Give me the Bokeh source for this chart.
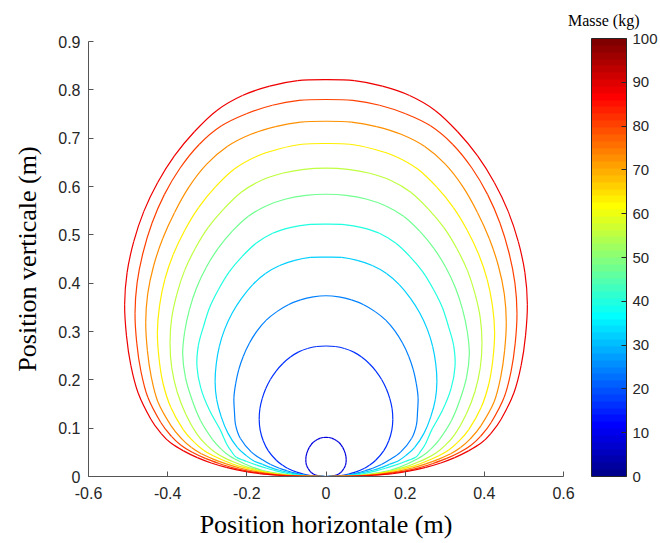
import math
from bokeh.plotting import figure
from bokeh.models import Range1d, ColorBar, LinearColorMapper, FixedTicker, ColumnDataSource, PrintfTickFormatter
from bokeh.embed import file_html
from bokeh.resources import INLINE

# ---- data ----
masses = [8, 16, 24, 32, 40, 48, 56, 64, 72, 80, 88]   # contour levels (kg)

# polar radius (m) of each contour, seen from the origin, at these angles (deg)
angles = [90, 85, 80, 75, 70, 65, 60, 55, 50, 45, 40, 35, 30, 25, 20, 15, 12, 10]
r08 = [.081, .081, .0805, .0797, .0788, .0775, .0757, .0735, .0710, .0685, .0655, .0622, .0585, .0540, .0480, .0415, .0370, .0335]
r16 = [.270, .270, .269, .267, .263, .258, .252, .245, .237, .228, .218, .206, .192, .175, .155, .130, .112, .099]
r24 = [.374, .373, .371, .368, .363, .357, .348, .337, .325, .312, .298, .284, .267, .252, .230, .195, .163, .142]
r32 = [.454, .455, .454, .452, .447, .438, .426, .413, .398, .381, .362, .342, .319, .292, .264, .232, .205, .185]
r40 = [.522, .523, .523, .521, .514, .502, .489, .473, .457, .438, .421, .398, .365, .325, .285, .260, .243, .230]
r48 = [.584, .584, .583, .580, .573, .560, .545, .528, .509, .488, .466, .442, .410, .373, .337, .297, .270, .249]
r56 = [.638, .638, .637, .634, .626, .611, .595, .576, .556, .533, .509, .481, .450, .415, .377, .337, .307, .283]
r64 = [.689, .690, .688, .685, .677, .661, .643, .622, .600, .576, .549, .520, .487, .454, .417, .373, .340, .314]
r72 = [.735, .736, .735, .733, .727, .713, .692, .667, .642, .616, .588, .556, .521, .487, .452, .405, .372, .345]
r80 = [.780, .781, .780, .777, .772, .758, .737, .712, .684, .654, .623, .589, .552, .516, .479, .432, .399, .372]
r88 = [.821, .822, .820, .816, .806, .787, .766, .742, .716, .687, .656, .621, .582, .544, .505, .458, .425, .398]

# flat tails near the origin (x, y in m), below 10 deg
t08_x = [0.026, 0.020, 0.014, 0.007, 0]
t08_y = [0.0032, 0.0018, 0.0008, 0.0002, 0]
t16_x = [0.074, 0.057, 0.042, 0.025, 0.010, 0]
t16_y = [0.009, 0.005, 0.0025, 0.0008, 0.0001, 0]
t24_x = [0.118, 0.099, 0.078, 0.059, 0.040, 0.020, 0]
t24_y = [0.017, 0.012, 0.007, 0.0035, 0.0015, 0.0003, 0]
t32_x = [0.160, 0.141, 0.118, 0.090, 0.068, 0.050, 0.025, 0]
t32_y = [0.025, 0.019, 0.013, 0.0075, 0.0042, 0.002, 0.0004, 0]
t40_x = [0.200, 0.175, 0.150, 0.124, 0.095, 0.067, 0.035, 0]
t40_y = [0.031, 0.0235, 0.017, 0.011, 0.006, 0.0027, 0.0006, 0]
t48_x = [0.225, 0.205, 0.185, 0.160, 0.130, 0.100, 0.065, 0.030, 0]
t48_y = [0.034, 0.026, 0.019, 0.0125, 0.0075, 0.0038, 0.0013, 0.0002, 0]
t56_x = [0.255, 0.230, 0.205, 0.175, 0.145, 0.110, 0.072, 0.035, 0]
t56_y = [0.038, 0.029, 0.021, 0.014, 0.0085, 0.004, 0.0014, 0.0002, 0]
t64_x = [0.285, 0.255, 0.225, 0.190, 0.155, 0.118, 0.078, 0.038, 0]
t64_y = [0.043, 0.032, 0.0225, 0.015, 0.009, 0.0045, 0.0016, 0.0003, 0]
t72_x = [0.315, 0.285, 0.252, 0.218, 0.180, 0.140, 0.098, 0.058, 0.027, 0]
t72_y = [0.047, 0.036, 0.026, 0.0175, 0.0105, 0.0055, 0.0022, 0.0007, 0.0001, 0]
t80_x = [0.338, 0.305, 0.270, 0.235, 0.197, 0.153, 0.108, 0.066, 0.030, 0]
t80_y = [0.050, 0.0375, 0.027, 0.018, 0.011, 0.0058, 0.0024, 0.0008, 0.0001, 0]
t88_x = [0.360, 0.325, 0.290, 0.252, 0.212, 0.168, 0.122, 0.080, 0.040, 0]
t88_y = [0.053, 0.039, 0.028, 0.019, 0.0115, 0.006, 0.0026, 0.0009, 0.0002, 0]

radii = [r08, r16, r24, r32, r40, r48, r56, r64, r72, r80, r88]
tails_x = [t08_x, t16_x, t24_x, t32_x, t40_x, t48_x, t56_x, t64_x, t72_x, t80_x, t88_x]
tails_y = [t08_y, t16_y, t24_y, t32_y, t40_y, t48_y, t56_y, t64_y, t72_y, t80_y, t88_y]

x_ticks = [-0.6, -0.4, -0.2, 0, 0.2, 0.4, 0.6]
y_ticks = [0, 0.1, 0.2, 0.3, 0.4, 0.5, 0.6, 0.7, 0.8, 0.9]
cb_ticks = [0, 10, 20, 30, 40, 50, 60, 70, 80, 90, 100]


# ---- MATLAB jet(64) colormap ----
def jet(m=64):
    n = -(-m // 4)
    u = [i / n for i in range(1, n + 1)] + [1.0] * (n - 1) + [i / n for i in range(n, 0, -1)]
    g0 = -(-n // 2) - (1 if m % 4 == 1 else 0)
    cols = [[0.0, 0.0, 0.0] for _ in range(m)]
    for j, val in enumerate(u, start=1):
        gi = g0 + j
        ri = gi + n
        bi = gi - n
        if 1 <= ri <= m:
            cols[ri - 1][0] = val
        if 1 <= gi <= m:
            cols[gi - 1][1] = val
        if 1 <= bi <= m:
            cols[bi - 1][2] = val
    return ["#%02x%02x%02x" % tuple(int(round(c * 255)) for c in col) for col in cols]


JET = jet(64)


def color_of(m):
    return JET[min(int(m / 100 * 64), 63)]


# closed contours: mirror the right half (symmetric about x = 0)
seg = dict(x0=[], y0=[], x1=[], y1=[], cx0=[], cy0=[], cx1=[], cy1=[], color=[], mass=[])
for rr, tx, ty, m in zip(radii, tails_x, tails_y, masses):
    hx = [r * math.cos(math.radians(a)) for r, a in zip(rr, angles)] + tx
    hy = [r * math.sin(math.radians(a)) for r, a in zip(rr, angles)] + ty
    hx[0] = 0.0
    X = [-v for v in hx[::-1]] + hx[1:]
    Y = hy[::-1] + hy[1:]
    n = len(X)
    c = color_of(m)
    # smooth drawing through the read points (cubic Bezier pieces, Catmull-Rom tangents)
    for i in range(n - 1):
        a_, b_ = max(i - 1, 0), min(i + 2, n - 1)
        seg["x0"].append(X[i]); seg["y0"].append(Y[i])
        seg["x1"].append(X[i + 1]); seg["y1"].append(Y[i + 1])
        seg["cx0"].append(X[i] + (X[i + 1] - X[a_]) / 6)
        seg["cy0"].append(Y[i] + (Y[i + 1] - Y[a_]) / 6)
        seg["cx1"].append(X[i + 1] - (X[b_] - X[i]) / 6)
        seg["cy1"].append(Y[i + 1] - (Y[b_] - Y[i]) / 6)
        seg["color"].append(c); seg["mass"].append(m)

src = ColumnDataSource(seg)

p = figure(width=660, height=543, output_backend="svg", toolbar_location=None,
           x_range=Range1d(-0.6, 0.6), y_range=Range1d(0, 0.9),
           min_border_left=88, min_border_right=94, min_border_top=40, min_border_bottom=67)
p.outline_line_color = None
p.grid.visible = False

p.bezier(x0="x0", y0="y0", x1="x1", y1="y1", cx0="cx0", cy0="cy0", cx1="cx1", cy1="cy1",
         line_color="color", line_width=1.2, source=src)

AX = "#555555"
TXT = "#262626"
for ax in (p.xaxis[0], p.yaxis[0]):
    ax.axis_line_color = AX
    ax.major_tick_line_color = AX
    ax.major_tick_in = 5
    ax.major_tick_out = 0
    ax.minor_tick_line_color = None
    ax.major_label_text_font = "Liberation Sans"
    ax.major_label_text_font_size = "16px"
    ax.major_label_text_color = TXT
    ax.axis_label_text_font = "Liberation Serif"
    ax.axis_label_text_font_size = "26px"
    ax.axis_label_text_font_style = "normal"
    ax.axis_label_text_color = "black"
    ax.formatter = PrintfTickFormatter(format="%g")

p.xaxis[0].ticker = FixedTicker(ticks=x_ticks)
p.yaxis[0].ticker = FixedTicker(ticks=y_ticks)
p.xaxis[0].axis_label = "Position horizontale (m)"
p.yaxis[0].axis_label = "Position verticale (m)"
p.xaxis[0].major_label_standoff = 10
p.yaxis[0].major_label_standoff = 8
p.xaxis[0].axis_label_standoff = 8
p.yaxis[0].axis_label_standoff = 13

mapper = LinearColorMapper(palette=JET, low=0, high=100)
cb = ColorBar(color_mapper=mapper, ticker=FixedTicker(ticks=cb_ticks),
              width=35, height=438, padding=0, margin=0, location=(28, 0),
              major_tick_in=5, major_tick_out=0, major_tick_line_color=TXT,
              bar_line_color=TXT, label_standoff=6,
              major_label_text_font="Liberation Sans", major_label_text_font_size="15px",
              major_label_text_color=TXT, border_line_color=None, background_fill_alpha=0)
p.add_layout(cb, "right")

p.title.text = "Masse (kg)"
p.title.align = "right"
p.title.offset = -76
p.title.vertical_align = "top"
p.title.text_font = "Liberation Serif"
p.title.text_font_size = "16px"
p.title.text_font_style = "normal"
p.title.text_color = "black"
p.title.standoff = 22

open("out.html", "w").write(file_html(p, INLINE))
